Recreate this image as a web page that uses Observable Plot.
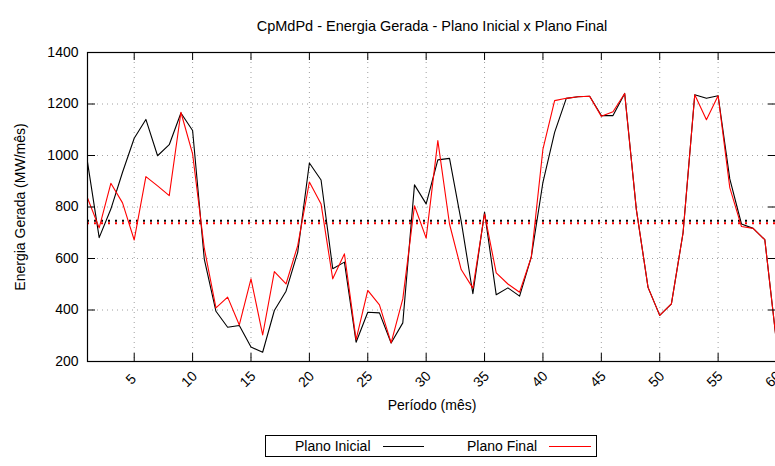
<!DOCTYPE html>
<html>
<head>
<meta charset="utf-8">
<script src="https://cdn.jsdelivr.net/npm/d3@7"></script>
<script src="https://cdn.jsdelivr.net/npm/@observablehq/plot@0.6"></script>
<style>
  html, body { margin: 0; padding: 0; background: white; overflow: hidden; }
  #wrap { position: relative; width: 775px; height: 466px; overflow: hidden; }
  #wrap svg { max-width: none !important; display: block; }
  .leg { position: absolute; left: 265px; top: 435px; width: 332px; height: 22px; border: 1px solid #000; box-sizing: border-box; font-family: "Liberation Sans", Arial, sans-serif; font-size: 14px; }
  .leg span { position: absolute; top: 2px; line-height: 16px; white-space: nowrap; }
  .leg i { position: absolute; top: 10px; height: 0; border-top: 1px solid; }
</style>
</head>
<body>
<div id="wrap"></div>
<script>
const titulo = "CpMdPd - Energia Gerada - Plano Inicial x Plano Final";
const rotuloX = "Período (mês)";
const rotuloY = "Energia Gerada (MW/mês)";
const serieNomes = ["Plano Inicial", "Plano Final"];
const serieCores = ["#000000", "#ff0000"];

const periodos = d3.range(1, 61);
const planoInicial = [974, 681, 792, 935, 1067, 1140, 999, 1042, 1165, 1097,
  598, 395, 333, 340, 256, 236, 398, 473, 624, 971,
  905, 560, 586, 275, 391, 389, 272, 350, 886, 812,
  983, 989, 745, 463, 780, 459, 486, 454, 605, 896,
  1090, 1222, 1228, 1230, 1155, 1155, 1241, 790, 488, 379,
  424, 700, 1236, 1222, 1232, 909, 734, 717, 673, 275];
const planoFinal = [835, 719, 892, 816, 672, 918, 882, 844, 1168, 1006,
  640, 408, 450, 342, 521, 303, 549, 501, 650, 897,
  812, 521, 618, 285, 476, 420, 272, 443, 805, 679,
  1058, 734, 557, 485, 773, 544, 501, 469, 605, 1025,
  1213, 1222, 1228, 1230, 1152, 1170, 1241, 790, 488, 379,
  424, 700, 1236, 1139, 1232, 875, 724, 717, 673, 275];
const mediaInicial = 747;
const mediaFinal = 737;
const yTicks = [200, 400, 600, 800, 1000, 1200, 1400];
const xTicks = [5, 10, 15, 20, 25, 30, 35, 40, 45, 50, 55, 60];

const dados = periodos.map((p, i) => ({p, ini: planoInicial[i], fin: planoFinal[i]}));

const W = 777, H = 466, mL = 87, mR = 1, mT = 52, mB = 105;
const plotW = W - mL - mR, plotH = H - mT - mB;
const tk = 8;
const gridStyle = {stroke: "#a0a0a0", strokeDasharray: "1,4", strokeWidth: 1};
const font = "'Liberation Sans', Arial, sans-serif";

const chart = Plot.plot({
  width: W, height: H,
  marginLeft: mL, marginRight: mR, marginTop: mT, marginBottom: mB,
  x: {domain: [1, 60], axis: null},
  y: {domain: [200, 1400], axis: null},
  style: {fontFamily: font, fontSize: "14px", background: "white", color: "black", overflow: "visible", maxWidth: "none"},
  marks: [
    Plot.ruleY(yTicks.filter(v => v > 200 && v < 1400), gridStyle),
    Plot.ruleX(xTicks.filter(v => v < 60), gridStyle),
    Plot.ruleY([mediaInicial], {stroke: serieCores[0], strokeWidth: 2, strokeDasharray: "2,5"}),
    Plot.ruleY([mediaFinal], {stroke: serieCores[1], strokeWidth: 2, strokeDasharray: "2,5"}),
    Plot.line(dados, {x: "p", y: "ini", stroke: serieCores[0], strokeWidth: 1.1}),
    Plot.line(dados, {x: "p", y: "fin", stroke: serieCores[1], strokeWidth: 1.1}),
    Plot.ruleY(yTicks, {insetRight: plotW - tk, stroke: "black"}),
    Plot.ruleY(yTicks, {insetLeft: plotW - tk, stroke: "black"}),
    Plot.ruleX(xTicks, {insetTop: plotH - tk, stroke: "black"}),
    Plot.ruleX(xTicks, {insetBottom: plotH - tk, stroke: "black"}),
    Plot.frame({stroke: "black", strokeWidth: 1.2}),
    Plot.text(yTicks, {y: d => d, text: d => String(d), frameAnchor: "left", dx: -9, textAnchor: "end", fontSize: 14, fill: "black"}),
    Plot.text(xTicks, {x: d => d, text: d => String(d), frameAnchor: "bottom", dy: 21, rotate: -45, textAnchor: "middle", fontSize: 14, fill: "black"}),
    Plot.text([rotuloY], {frameAnchor: "left", dx: -67, rotate: -90, textAnchor: "middle", fontSize: 14, fill: "black"}),
    Plot.text([rotuloX], {frameAnchor: "bottom", dy: 48, textAnchor: "middle", fontSize: 14, fill: "black"}),
    Plot.text([titulo], {frameAnchor: "top", dy: -32, textAnchor: "middle", fontSize: 14.5, fill: "black"})
  ]
});
const wrap = document.getElementById("wrap");
wrap.appendChild(chart);

const leg = document.createElement("div");
leg.className = "leg";
leg.innerHTML =
  `<span style="left:29px">${serieNomes[0]}</span><i style="left:117px;width:41px;border-color:${serieCores[0]}"></i>` +
  `<span style="left:201px">${serieNomes[1]}</span><i style="left:283px;width:42px;border-color:${serieCores[1]}"></i>`;
wrap.appendChild(leg);
</script>
</body>
</html>
